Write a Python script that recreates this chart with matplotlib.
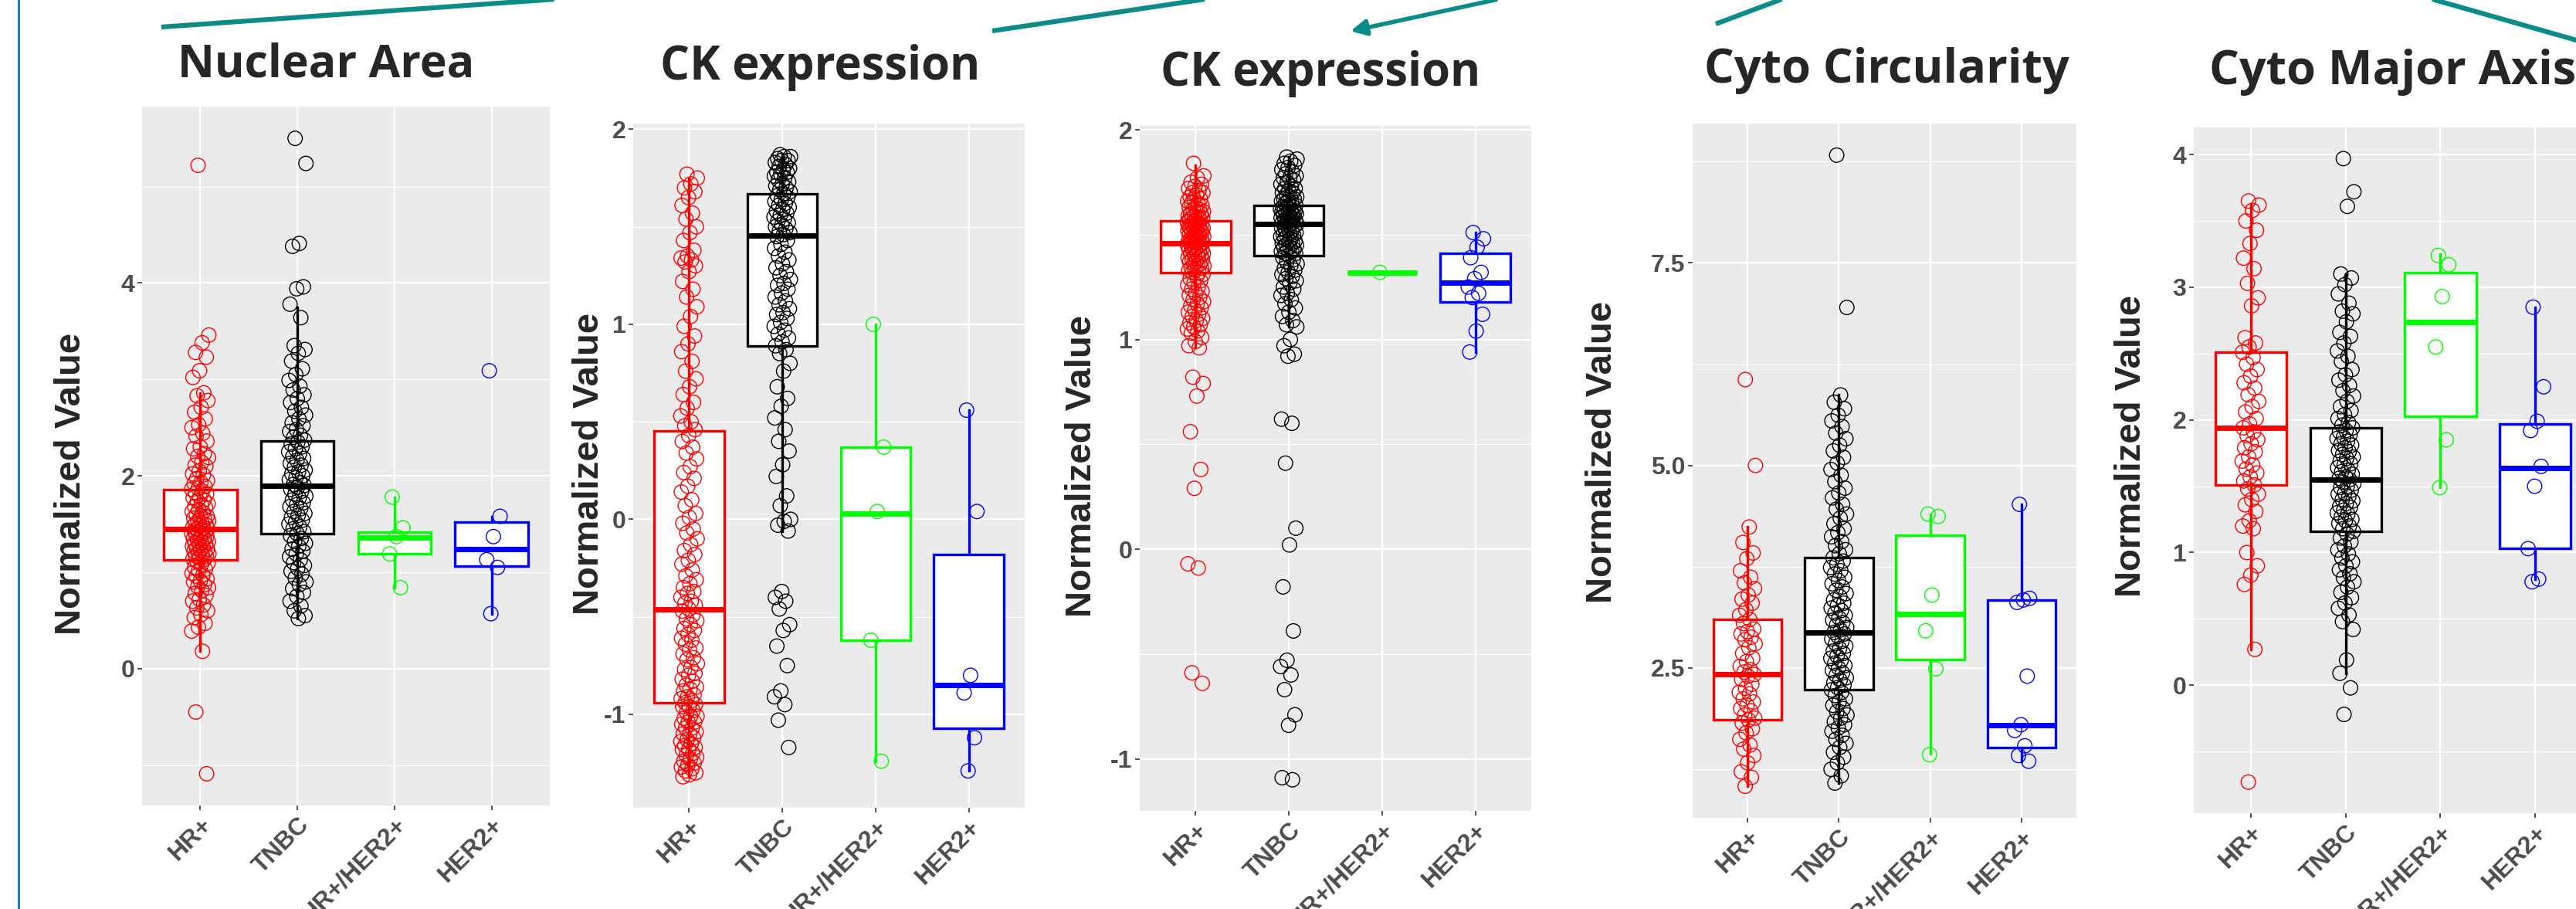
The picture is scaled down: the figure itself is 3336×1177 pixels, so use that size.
import numpy as np
import matplotlib.pyplot as plt
from matplotlib.lines import Line2D
from matplotlib.patches import FancyArrowPatch

W, H = 3336, 1177
groups = ["HR+", "TNBC", "HR+/HER2+", "HER2+"]
colors = ["#FF0000", "#000000", "#00FF00", "#0000FF"]

# ---------------- Nuclear Area
nuc_hr = [5.22, 3.46, 3.38, 3.28, 3.23, 3.09, 3.02, 2.86, 2.83, 2.78, 2.71, 2.66, 2.59, 2.53, 2.50, 2.44,
          2.41, 2.36, 2.30, 2.28, 2.23, 2.20, 2.19, 2.14, 2.11, 2.10, 2.05, 2.02, 2.01, 1.97, 1.95, 1.93,
          1.92, 1.89, 1.87, 1.86, 1.84, 1.82, 1.81, 1.78, 1.77, 1.75, 1.74, 1.71, 1.70, 1.68, 1.67, 1.65,
          1.63, 1.62, 1.60, 1.58, 1.58, 1.56, 1.55, 1.53, 1.53, 1.51, 1.50, 1.49, 1.48, 1.47, 1.46, 1.45,
          1.45, 1.44, 1.43, 1.42, 1.41, 1.40, 1.40, 1.38, 1.37, 1.36, 1.35, 1.35, 1.33, 1.32, 1.31, 1.30,
          1.29, 1.28, 1.27, 1.26, 1.25, 1.24, 1.23, 1.22, 1.21, 1.20, 1.19, 1.18, 1.17, 1.16, 1.15, 1.14,
          1.13, 1.11, 1.09, 1.08, 1.05, 1.03, 1.02, 0.99, 0.97, 0.96, 0.93, 0.91, 0.90, 0.87, 0.85, 0.84,
          0.81, 0.78, 0.76, 0.72, 0.70, 0.66, 0.63, 0.60, 0.56, 0.53, 0.47, 0.43, 0.39, 0.18, -0.45, -1.09]
nuc_tnbc = [5.50, 5.24, 4.41, 4.38, 3.96, 3.94, 3.78, 3.64, 3.35, 3.31, 3.27, 3.19, 3.11, 3.05, 2.99, 2.93,
            2.89, 2.84, 2.80, 2.76, 2.71, 2.67, 2.63, 2.59, 2.55, 2.52, 2.48, 2.46, 2.42, 2.40, 2.37, 2.35,
            2.33, 2.30, 2.28, 2.25, 2.23, 2.20, 2.18, 2.16, 2.13, 2.11, 2.09, 2.06, 2.04, 2.02, 2.00, 1.98,
            1.96, 1.93, 1.91, 1.90, 1.88, 1.86, 1.84, 1.81, 1.79, 1.77, 1.75, 1.72, 1.70, 1.68, 1.66, 1.63,
            1.61, 1.59, 1.57, 1.54, 1.52, 1.50, 1.47, 1.45, 1.42, 1.40, 1.38, 1.35, 1.32, 1.30, 1.27, 1.24,
            1.22, 1.19, 1.16, 1.13, 1.10, 1.07, 1.04, 1.01, 0.98, 0.94, 0.90, 0.87, 0.83, 0.79, 0.75, 0.70,
            0.65, 0.60, 0.55, 0.52]
nuc_gr = [1.78, 1.46, 1.37, 1.19, 0.84]
nuc_her2 = [3.09, 1.58, 1.37, 1.13, 1.05, 0.57]
nuc_q1 = [1.13, 1.40, 1.19, 1.06]
nuc_med = [1.45, 1.90, 1.36, 1.24]
nuc_q3 = [1.86, 2.36, 1.42, 1.52]
nuc_lo = [0.18, 0.52, 0.84, 0.57]
nuc_hi = [2.86, 3.75, 1.78, 1.58]

# ---------------- CK expression (first)
ck1_hr = [1.77, 1.75, 1.72, 1.70, 1.68, 1.65, 1.61, 1.57, 1.54, 1.50, 1.47, 1.43, 1.38, 1.35, 1.34, 1.33,
          1.32, 1.30, 1.27, 1.22, 1.18, 1.14, 1.09, 1.04, 0.99, 0.94, 0.90, 0.86, 0.81, 0.76, 0.72, 0.68,
          0.64, 0.60, 0.57, 0.53, 0.50, 0.48, 0.46, 0.43, 0.40, 0.37, 0.34, 0.31, 0.27, 0.24, 0.21, 0.17,
          0.14, 0.10, 0.07, 0.03, 0.01, -0.02, -0.05, -0.07, -0.10, -0.13, -0.16, -0.18, -0.21, -0.23,
          -0.26, -0.29, -0.31, -0.33, -0.35, -0.37, -0.38, -0.40, -0.42, -0.43, -0.44, -0.46, -0.47,
          -0.49, -0.51, -0.52, -0.54, -0.56, -0.57, -0.59, -0.61, -0.62, -0.64, -0.66, -0.67, -0.69,
          -0.71, -0.72, -0.74, -0.76, -0.77, -0.79, -0.80, -0.82, -0.83, -0.85, -0.86, -0.87, -0.88,
          -0.90, -0.91, -0.92, -0.93, -0.94, -0.95, -0.96, -0.96, -0.98, -0.99, -1.01, -1.01, -1.02,
          -1.04, -1.04, -1.05, -1.07, -1.07, -1.09, -1.10, -1.10, -1.12, -1.13, -1.14, -1.15, -1.16,
          -1.17, -1.18, -1.18, -1.20, -1.21, -1.22, -1.23, -1.24, -1.25, -1.26, -1.27, -1.28, -1.29,
          -1.30, -1.31, -1.32]
ck1_tnbc = [1.87, 1.86, 1.86, 1.85, 1.84, 1.84, 1.83, 1.82, 1.81, 1.80, 1.79, 1.78, 1.78, 1.77, 1.76,
            1.75, 1.74, 1.73, 1.72, 1.71, 1.70, 1.69, 1.68, 1.67, 1.66, 1.65, 1.64, 1.63, 1.62, 1.61,
            1.60, 1.59, 1.58, 1.57, 1.56, 1.55, 1.54, 1.53, 1.52, 1.51, 1.50, 1.49, 1.48, 1.47, 1.46,
            1.45, 1.43, 1.41, 1.39, 1.37, 1.35, 1.33, 1.31, 1.29, 1.27, 1.25, 1.23, 1.21, 1.20, 1.18,
            1.16, 1.14, 1.12, 1.10, 1.08, 1.06, 1.05, 1.03, 1.01, 0.99, 0.97, 0.95, 0.93, 0.91, 0.89,
            0.87, 0.85, 0.80, 0.76, 0.68, 0.62, 0.58, 0.52, 0.46, 0.40, 0.35, 0.28, 0.22, 0.12, 0.07,
            0.00, -0.01, -0.03, -0.06, -0.37, -0.40, -0.42, -0.46, -0.54, -0.57, -0.65, -0.75, -0.88,
            -0.91, -0.95, -1.03, -1.17]
ck1_gr = [1.00, 0.37, 0.04, -0.62, -1.24]
ck1_her2 = [0.56, 0.04, -0.80, -0.89, -1.12, -1.29]
ck1_q1 = [-0.94, 0.89, -0.62, -1.07]
ck1_med = [-0.46, 1.455, 0.03, -0.85]
ck1_q3 = [0.455, 1.67, 0.37, -0.18]
ck1_lo = [-1.32, -0.06, -1.24, -1.29]
ck1_hi = [1.75, 1.87, 1.00, 0.56]

# ---------------- CK expression (second)
ck2_hr = [1.84, 1.78, 1.77, 1.75, 1.74, 1.73, 1.72, 1.71, 1.70, 1.70, 1.69, 1.68, 1.67, 1.67, 1.66,
          1.65, 1.65, 1.64, 1.63, 1.63, 1.62, 1.62, 1.61, 1.61, 1.60, 1.60, 1.59, 1.59, 1.58, 1.58,
          1.58, 1.57, 1.57, 1.57, 1.56, 1.56, 1.56, 1.55, 1.55, 1.55, 1.54, 1.54, 1.54, 1.53, 1.53,
          1.53, 1.52, 1.52, 1.52, 1.51, 1.51, 1.51, 1.50, 1.50, 1.50, 1.49, 1.49, 1.49, 1.48, 1.48,
          1.48, 1.47, 1.47, 1.47, 1.46, 1.46, 1.46, 1.45, 1.45, 1.45, 1.44, 1.44, 1.43, 1.43, 1.43,
          1.42, 1.42, 1.41, 1.41, 1.41, 1.40, 1.40, 1.39, 1.39, 1.38, 1.38, 1.37, 1.37, 1.36, 1.36,
          1.35, 1.35, 1.34, 1.34, 1.33, 1.33, 1.32, 1.32, 1.31, 1.30, 1.29, 1.28, 1.27, 1.26, 1.25,
          1.24, 1.23, 1.22, 1.21, 1.20, 1.19, 1.18, 1.17, 1.16, 1.15, 1.14, 1.13, 1.12, 1.11, 1.10,
          1.09, 1.08, 1.07, 1.06, 1.05, 1.04, 1.03, 1.01, 0.99, 0.97, 0.96, 0.82, 0.79, 0.73, 0.56,
          0.38, 0.29, -0.07, -0.09, -0.59, -0.64]
ck2_tnbc = [1.87, 1.86, 1.85, 1.84, 1.83, 1.82, 1.81, 1.80, 1.79, 1.78, 1.77, 1.77, 1.76, 1.75, 1.74,
            1.73, 1.72, 1.72, 1.71, 1.70, 1.70, 1.69, 1.68, 1.68, 1.67, 1.67, 1.66, 1.66, 1.65, 1.65,
            1.64, 1.64, 1.63, 1.63, 1.63, 1.62, 1.62, 1.62, 1.61, 1.61, 1.61, 1.60, 1.60, 1.60, 1.59,
            1.59, 1.59, 1.58, 1.58, 1.58, 1.57, 1.57, 1.57, 1.56, 1.56, 1.56, 1.55, 1.55, 1.54, 1.54,
            1.53, 1.53, 1.52, 1.52, 1.51, 1.51, 1.50, 1.50, 1.49, 1.49, 1.48, 1.48, 1.47, 1.47, 1.46,
            1.46, 1.45, 1.45, 1.44, 1.44, 1.43, 1.43, 1.42, 1.42, 1.41, 1.41, 1.40, 1.39, 1.38, 1.37,
            1.36, 1.35, 1.34, 1.33, 1.32, 1.31, 1.30, 1.29, 1.28, 1.27, 1.25, 1.24, 1.22, 1.21, 1.19,
            1.17, 1.15, 1.13, 1.11, 1.09, 1.07, 1.06, 1.00, 0.97, 0.93, 0.92, 0.62, 0.60, 0.41, 0.10,
            0.02, -0.18, -0.39, -0.53, -0.56, -0.60, -0.67, -0.79, -0.84, -1.09, -1.10]
ck2_gr = [1.32]
ck2_her2 = [1.51, 1.48, 1.44, 1.39, 1.32, 1.29, 1.25, 1.22, 1.20, 1.12, 1.04, 0.94]
ck2_q1 = [1.32, 1.40, 1.32, 1.18]
ck2_med = [1.46, 1.55, 1.32, 1.27]
ck2_q3 = [1.565, 1.64, 1.32, 1.41]
ck2_lo = [0.96, 1.06, 1.32, 0.94]
ck2_hi = [1.83, 1.87, 1.32, 1.51]

# ---------------- Cyto Circularity
circ_hr = [6.06, 5.00, 4.24, 4.05, 3.92, 3.85, 3.70, 3.62, 3.55, 3.48, 3.40, 3.35, 3.30, 3.22, 3.15,
           3.10, 3.05, 2.98, 2.95, 2.92, 2.88, 2.85, 2.80, 2.75, 2.68, 2.62, 2.58, 2.52, 2.48, 2.45,
           2.42, 2.40, 2.36, 2.30, 2.25, 2.20, 2.18, 2.12, 2.08, 2.04, 2.00, 1.97, 1.92, 1.88, 1.86,
           1.82, 1.75, 1.70, 1.62, 1.55, 1.50, 1.42, 1.33, 1.22, 1.15, 1.04]
circ_tnbc = [8.83, 6.95, 5.87, 5.78, 5.70, 5.62, 5.55, 5.48, 5.40, 5.33, 5.25, 5.18, 5.10, 5.03, 4.95,
             4.88, 4.80, 4.72, 4.66, 4.60, 4.52, 4.46, 4.40, 4.35, 4.28, 4.22, 4.17, 4.12, 4.06, 4.01,
             3.96, 3.91, 3.86, 3.82, 3.78, 3.74, 3.70, 3.66, 3.62, 3.58, 3.54, 3.50, 3.46, 3.42, 3.38,
             3.34, 3.30, 3.27, 3.24, 3.21, 3.18, 3.15, 3.12, 3.09, 3.06, 3.03, 3.00, 2.97, 2.94, 2.92,
             2.89, 2.86, 2.83, 2.80, 2.77, 2.74, 2.71, 2.68, 2.65, 2.62, 2.59, 2.56, 2.53, 2.50, 2.47,
             2.44, 2.41, 2.38, 2.35, 2.32, 2.29, 2.26, 2.23, 2.20, 2.16, 2.12, 2.08, 2.04, 2.00, 1.96,
             1.92, 1.88, 1.84, 1.80, 1.76, 1.72, 1.67, 1.62, 1.57, 1.52, 1.46, 1.40, 1.33, 1.25, 1.17,
             1.08]
circ_gr = [4.40, 4.37, 3.40, 2.96, 2.49, 1.43]
circ_her2 = [4.52, 3.36, 3.34, 3.31, 2.40, 1.80, 1.73, 1.54, 1.42, 1.35]
circ_q1 = [1.86, 2.23, 2.60, 1.52]
circ_med = [2.42, 2.94, 3.17, 1.79]
circ_q3 = [3.10, 3.86, 4.14, 3.34]
circ_lo = [1.04, 1.08, 1.44, 1.35]
circ_hi = [4.24, 5.87, 4.40, 4.52]

# ---------------- Cyto Major Axis
maj_hr = [3.65, 3.62, 3.58, 3.50, 3.43, 3.33, 3.22, 3.14, 3.03, 2.92, 2.86, 2.62, 2.58, 2.55, 2.51,
          2.47, 2.42, 2.38, 2.33, 2.28, 2.24, 2.19, 2.14, 2.10, 2.06, 2.01, 1.97, 1.94, 1.91, 1.88,
          1.85, 1.82, 1.79, 1.76, 1.72, 1.69, 1.66, 1.63, 1.60, 1.57, 1.54, 1.51, 1.48, 1.44, 1.40,
          1.36, 1.31, 1.24, 1.20, 1.18, 1.00, 0.90, 0.83, 0.76, 0.27, -0.73]
maj_tnbc = [3.97, 3.72, 3.61, 3.10, 3.07, 3.02, 2.95, 2.88, 2.82, 2.80, 2.74, 2.66, 2.63, 2.58, 2.52,
            2.48, 2.44, 2.38, 2.34, 2.30, 2.26, 2.22, 2.18, 2.14, 2.10, 2.07, 2.04, 2.01, 1.98, 1.96,
            1.94, 1.92, 1.91, 1.89, 1.87, 1.86, 1.84, 1.82, 1.81, 1.79, 1.77, 1.76, 1.74, 1.72, 1.71,
            1.69, 1.67, 1.66, 1.64, 1.62, 1.61, 1.59, 1.57, 1.56, 1.55, 1.53, 1.52, 1.50, 1.49, 1.47,
            1.45, 1.44, 1.42, 1.40, 1.39, 1.37, 1.35, 1.34, 1.32, 1.30, 1.29, 1.27, 1.25, 1.24, 1.22,
            1.20, 1.18, 1.16, 1.14, 1.11, 1.08, 1.05, 1.02, 0.99, 0.96, 0.93, 0.90, 0.87, 0.84, 0.81,
            0.78, 0.74, 0.70, 0.66, 0.62, 0.58, 0.53, 0.48, 0.42, 0.19, 0.09, -0.02, -0.22]
maj_gr = [3.24, 3.17, 2.93, 2.55, 1.85, 1.49]
maj_her2 = [2.85, 2.25, 1.99, 1.92, 1.65, 1.50, 1.03, 0.80, 0.78]
maj_q1 = [1.51, 1.16, 2.03, 1.03]
maj_med = [1.94, 1.55, 2.74, 1.64]
maj_q3 = [2.51, 1.94, 3.11, 1.97]
maj_lo = [0.27, 0.09, 1.49, 0.80]
maj_hi = [3.63, 3.10, 3.25, 2.85]

titles = ["Nuclear Area", "CK expression", "CK expression", "Cyto Circularity", "Cyto Major Axis"]

plt.rcParams['font.family'] = ['Liberation Sans', 'DejaVu Sans']
fig = plt.figure(figsize=(W / 100, H / 100), dpi=100, facecolor="white")


def fx(x):
    return x / W


def fy(y):
    return 1 - y / H


def draw_panel(box, pts, q1, med, q3, lo, hi, major, minor, fmt):
    l, t, r, b = box
    ax = fig.add_axes([fx(l), fy(b), (r - l) / W, (b - t) / H])
    ax.set_facecolor("#EBEBEB")
    for s in ax.spines.values():
        s.set_visible(False)
    stats = [dict(q1=q1[i], med=med[i], q3=q3[i], whislo=lo[i], whishi=hi[i], fliers=[]) for i in range(4)]
    bp = ax.bxp(stats, positions=[1, 2, 3, 4], widths=0.75, patch_artist=True,
                showcaps=False, showfliers=False)
    for i, c in enumerate(colors):
        bp['boxes'][i].set(facecolor="white", edgecolor=c, linewidth=2.4, zorder=2)
        bp['medians'][i].set(color=c, linewidth=5, solid_capstyle="butt", zorder=2.1)
        bp['whiskers'][2 * i].set(color=c, linewidth=2.4, zorder=1.9)
        bp['whiskers'][2 * i + 1].set(color=c, linewidth=2.4, zorder=1.9)
    allv = []
    for i, (vals, c) in enumerate(zip(pts, colors)):
        vals = np.asarray(vals, dtype=float)
        allv.extend(vals)
        n = len(vals)
        # deterministic horizontal spread, like geom_jitter(width = 0.1)
        off = 0.09 * (2 * ((np.arange(n) * 0.6180339 + 0.37) % 1) - 1)
        ax.scatter(i + 1 + off, vals, s=180, facecolors="none", edgecolors=c,
                   linewidths=1.0, zorder=3)
    lo_v, hi_v = min(allv), max(allv)
    pad = 0.05 * (hi_v - lo_v)
    ax.set_ylim(lo_v - pad, hi_v + pad)
    ax.set_xlim(0.4, 4.6)
    ax.set_yticks(major)
    ax.set_yticklabels([fmt.format(v) for v in major])
    ax.set_yticks(minor, minor=True)
    ax.set_xticks([1, 2, 3, 4])
    ax.set_xticklabels(groups, rotation=45, ha="right", va="top", rotation_mode="anchor")
    ax.grid(True, which="major", color="white", linewidth=1.6)
    ax.grid(True, which="minor", axis="y", color="white", linewidth=0.8)
    ax.set_axisbelow(True)
    ax.tick_params(which="major", length=4, width=1.2, color="#333333", pad=3,
                   labelsize=23, labelcolor="#4D4D4D")
    ax.tick_params(which="minor", length=0)
    for lab in ax.get_xticklabels() + ax.get_yticklabels():
        lab.set_fontweight("bold")
    return ax


panels = [
    ((184, 138, 712, 1043), [nuc_hr, nuc_tnbc, nuc_gr, nuc_her2],
     nuc_q1, nuc_med, nuc_q3, nuc_lo, nuc_hi, [0, 2, 4], [-1, 1, 3, 5], "{:.0f}"),
    ((820, 160, 1327, 1046), [ck1_hr, ck1_tnbc, ck1_gr, ck1_her2],
     ck1_q1, ck1_med, ck1_q3, ck1_lo, ck1_hi, [-1, 0, 1, 2], [-0.5, 0.5, 1.5], "{:.0f}"),
    ((1476, 163, 1983, 1050), [ck2_hr, ck2_tnbc, ck2_gr, ck2_her2],
     ck2_q1, ck2_med, ck2_q3, ck2_lo, ck2_hi, [-1, 0, 1, 2], [-0.5, 0.5, 1.5], "{:.0f}"),
    ((2192, 160, 2689, 1059), [circ_hr, circ_tnbc, circ_gr, circ_her2],
     circ_q1, circ_med, circ_q3, circ_lo, circ_hi, [2.5, 5.0, 7.5], [1.25, 3.75, 6.25, 8.75], "{:.1f}"),
    ((2841, 165, 3357, 1053), [maj_hr, maj_tnbc, maj_gr, maj_her2],
     maj_q1, maj_med, maj_q3, maj_lo, maj_hi, [0, 1, 2, 3, 4], [-0.5, 0.5, 1.5, 2.5, 3.5], "{:.0f}"),
]
for p in panels:
    draw_panel(*p)

# titles (centre x, baseline y, size)
title_pos = [(422, 99, 42.5), (1062, 103, 43), (1710, 111, 43), (2443, 107, 44), (3099, 109, 44)]
for txt, (x, y, sz) in zip(titles, title_pos):
    fig.text(fx(x), fy(y), txt, ha="center", va="baseline", fontsize=sz,
             fontweight="bold", color="#262626", family=["Open Sans", "DejaVu Sans"])

# y axis titles
ylab_pos = [(92, 626), (763, 600), (1401, 603), (2075, 585), (2760, 577)]
for x, y in ylab_pos:
    fig.text(fx(x), fy(y), "Normalized Value", rotation=90, ha="center", va="center",
             fontsize=34, fontweight="bold", color="#262626")

# slide decorations: left border and teal connector lines
teal = "#0B8C88"
fig.add_artist(Line2D([fx(24), fx(24)], [0, 1], color="#1C7CD5", linewidth=2.2))
for (x0, y0), (x1, y1) in [((209, 35), (760, -4)), ((1285, 40), (1560, -1)),
                           ((2222, 31), (2310, -2)), ((3150, -1), (3340, 53))]:
    fig.add_artist(Line2D([fx(x0), fx(x1)], [fy(y0), fy(y1)], color=teal, linewidth=4.5,
                          solid_capstyle="butt"))
fig.add_artist(FancyArrowPatch((fx(1940), fy(-1)), (fx(1746), fy(41)), transform=fig.transFigure,
                               arrowstyle="-|>", mutation_scale=30, color=teal, linewidth=4))

fig.savefig("out.png", dpi=100, facecolor="white")
